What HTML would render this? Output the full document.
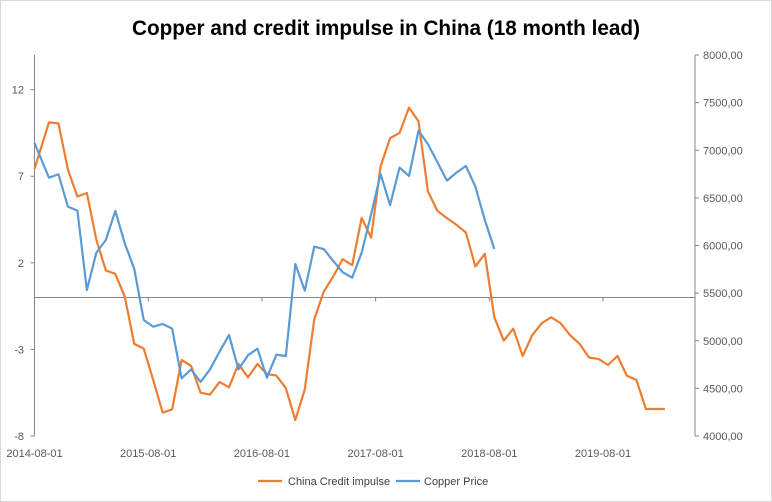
<!DOCTYPE html>
<html><head><meta charset="utf-8"><style>
body{margin:0;background:#fff;}
svg{display:block;font-family:"Liberation Sans",sans-serif;}
</style></head><body>
<svg id="chart" width="772" height="502" xmlns="http://www.w3.org/2000/svg">
<rect x="0.5" y="0.5" width="771" height="501" fill="#fff" stroke="#d9d9d9"/>
<text x="386" y="35" text-anchor="middle" font-size="21" font-weight="bold" fill="#000" textLength="508" lengthAdjust="spacingAndGlyphs">Copper and credit impulse in China (18 month lead)</text>
<g id="axes"></g>
<g id="series"></g>
<g>
<line x1="258" y1="481" x2="282" y2="481" stroke="#ed7d31" stroke-width="2.2"/>
<text x="288" y="485" font-size="11" fill="#404040">China Credit impulse</text>
<line x1="396" y1="481" x2="420" y2="481" stroke="#5b9bd5" stroke-width="2.2"/>
<text x="424" y="485" font-size="11" fill="#404040">Copper Price</text>
</g>
</svg>
<script>
const leftTicks=[12,7,2,-3,-8];
const rightTicks=[4000,4500,5000,5500,6000,6500,7000,7500,8000];
const xLabels=["2014-08-01","2015-08-01","2016-08-01","2017-08-01","2018-08-01","2019-08-01"];
const creditImpulse=[7.43,10.11,10.05,7.38,5.83,6.03,3.33,1.56,1.36,0.05,-2.68,-2.95,-4.76,-6.65,-6.46,-3.61,-3.95,-5.5,-5.61,-4.88,-5.19,-3.84,-4.61,-3.84,-4.42,-4.51,-5.24,-7.08,-5.3,-1.26,0.34,1.21,2.21,1.86,4.6,3.45,7.57,9.2,9.5,10.96,10.17,6.12,5.0,4.58,4.2,3.75,1.79,2.52,-1.14,-2.49,-1.8,-3.38,-2.18,-1.49,-1.14,-1.49,-2.18,-2.68,-3.47,-3.55,-3.9,-3.38,-4.53,-4.76,-6.44,-6.44,-6.44];
const copperPrice=[7076,6712,6748,6408,6366,5533,5925,6058,6363,6023,5754,5218,5148,5176,5127,4605,4700,4567,4700,4885,5060,4700,4847,4917,4612,4854,4840,5806,5526,5988,5963,5838,5719,5662,5925,6328,6751,6425,6818,6730,7206,7063,6874,6681,6765,6835,6618,6268,5963];
const NS="http://www.w3.org/2000/svg";
const X0=34.5,X1=695,T=55,B=436;
const yL=v=>B-(v-(-8))*(B-T)/22;
const yR=v=>B-(v-4000)*(B-T)/4000;
const xi=i=>i===0?X0:39.5+i*9.475;
const xYear=k=>X0+k*113.7;
function mk(tag,attrs,parent){const e=document.createElementNS(NS,tag);for(const k in attrs)e.setAttribute(k,attrs[k]);parent.appendChild(e);return e;}
const ax=document.getElementById('axes');
let l=mk('line',{x1:X0,y1:T,x2:X0,y2:B,stroke:'#868686'},ax);


l=mk('line',{x1:X1,y1:T,x2:X1,y2:B,stroke:'#868686'},ax);


l=mk('line',{x1:X0,y1:yL(0),x2:X1,y2:yL(0),stroke:'#868686'},ax);


leftTicks.forEach(v=>{
 const y=yL(v);
 mk('line',{x1:X0-4,y1:y,x2:X0,y2:y,stroke:'#868686'},ax);
 const t=mk('text',{x:24,y:y+4,'text-anchor':'end','font-size':11,fill:'#595959'},ax);
 t.textContent=v;
 
 
});
rightTicks.forEach(v=>{
 const y=yR(v);
 mk('line',{x1:X1,y1:y,x2:X1+4,y2:y,stroke:'#868686'},ax);
 const t=mk('text',{x:703,y:y+4,'font-size':11,fill:'#595959'},ax);
 t.textContent=v+',00';
 
 
});
xLabels.forEach((s,k)=>{
 const x=xYear(k);
 mk('line',{x1:x,y1:yL(0),x2:x,y2:yL(0)+4,stroke:'#868686'},ax);
 const t=mk('text',{x:x,y:457,'text-anchor':'middle','font-size':11,fill:'#595959'},ax);
 t.textContent=s;
 
 
});
const sg=document.getElementById('series');
let p=mk('polyline',{points:creditImpulse.map((v,i)=>xi(i)+','+yL(v)).join(' '),fill:'none',stroke:'#ed7d31','stroke-width':2.2,'stroke-linejoin':'round'},sg);


p=mk('polyline',{points:copperPrice.map((v,i)=>xi(i)+','+yR(v)).join(' '),fill:'none',stroke:'#5b9bd5','stroke-width':2.2,'stroke-linejoin':'round'},sg);


</script>
</body></html>
